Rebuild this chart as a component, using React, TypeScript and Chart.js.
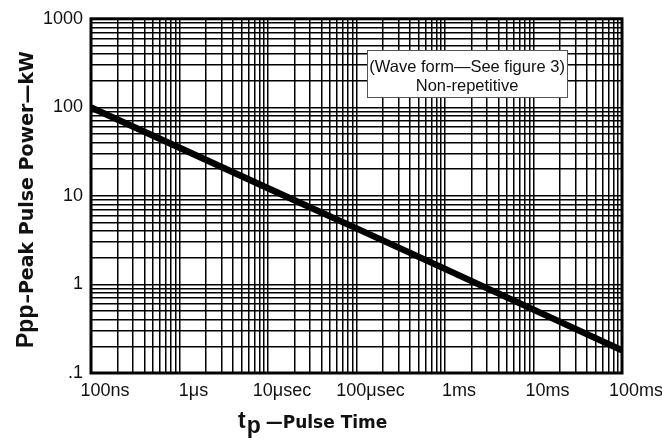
import React, { useEffect, useRef } from "react";
import { Chart, registerables } from "chart.js";

Chart.register(...registerables);

// ---- data ----
const xDecades = [1e-7, 1e-6, 1e-5, 1e-4, 1e-3, 1e-2, 1e-1];
const xTickLabels = ["100ns", "1μs", "10μsec", "100μsec", "1ms", "10ms", "100ms"];
const yDecades = [0.1, 1, 10, 100, 1000];
const yTickLabels = [".1", "1", "10", "100", "1000"];

const pulseTime = [1e-7, 1e-6, 1e-5, 1e-4, 1e-3, 1e-2, 1e-1];
const peakPower = [100, 35, 12.2, 4.3, 1.5, 0.52, 0.18];

const noteLines = ["(Wave form—See figure 3)", "Non-repetitive"];
// note box corners in data units
const noteBox = { x0: 1.32e-4, x1: 0.0239, y0: 440, y1: 129 };

const yTitleMain = "Ppp";
const yTitleRest = "–Peak Pulse Power—kW";
const xTitleMain = "t";
const xTitleSub = "p";
const xTitleRest = "—Pulse Time";

function logTicks(decades: number[]) {
  const out: { value: number }[] = [];
  for (let i = 0; i < decades.length - 1; i++) {
    for (let m = 1; m <= 9; m++) {
      out.push({ value: Number((m * decades[i]).toPrecision(12)) });
    }
  }
  out.push({ value: decades[decades.length - 1] });
  return out;
}

function labelFor(decades: number[], labels: string[], v: number) {
  const i = decades.findIndex((d) => Math.abs(d - v) / d < 1e-6);
  return i >= 0 ? labels[i] : "";
}

const SANS = '"Liberation Sans", Arial, sans-serif';

const decorPlugin = {
  id: "decor",
  beforeDatasetsDraw(chart: any) {
    const ctx = chart.ctx;
    const xs = chart.scales.x;
    const ys = chart.scales.y;
    const l = xs.getPixelForValue(noteBox.x0);
    const r = xs.getPixelForValue(noteBox.x1);
    const t = ys.getPixelForValue(noteBox.y0);
    const b = ys.getPixelForValue(noteBox.y1);
    ctx.save();
    ctx.fillStyle = "#fff";
    ctx.fillRect(l, t, r - l, b - t);
    ctx.strokeStyle = "#555";
    ctx.lineWidth = 1;
    ctx.strokeRect(Math.round(l) + 0.5, Math.round(t) + 0.5, Math.round(r - l), Math.round(b - t));
    ctx.fillStyle = "#111";
    ctx.font = `16.5px ${SANS}`;
    ctx.textAlign = "center";
    ctx.textBaseline = "alphabetic";
    const cx = (l + r) / 2;
    ctx.fillText(noteLines[0], cx, t + 22);
    ctx.fillText(noteLines[1], cx, t + 41);
    ctx.restore();
  },
  afterDatasetsDraw(chart: any) {
    const ctx = chart.ctx;
    const a = chart.chartArea;
    ctx.save();
    ctx.strokeStyle = "#000";
    ctx.lineWidth = 3;
    ctx.strokeRect(a.left, a.top, a.right - a.left, a.bottom - a.top);
    ctx.restore();
  },
  afterDraw(chart: any) {
    const ctx = chart.ctx;
    const a = chart.chartArea;
    ctx.save();
    ctx.fillStyle = "#111";
    ctx.textBaseline = "alphabetic";
    ctx.textAlign = "left";
    // y title (rotated)
    ctx.translate(a.left - 58, a.bottom - 25);
    ctx.rotate(-Math.PI / 2);
    ctx.font = `bold 23px ${SANS}`;
    ctx.fillText(yTitleMain, 0, 0);
    const w1 = ctx.measureText(yTitleMain).width;
    ctx.font = `bold 19px "DejaVu Sans", sans-serif`;
    ctx.fillText(yTitleRest, w1 + 1, 0);
    ctx.restore();

    // x title
    ctx.save();
    ctx.fillStyle = "#111";
    ctx.textBaseline = "alphabetic";
    ctx.textAlign = "left";
    const x0 = a.left + 147;
    const base = a.bottom + 55;
    ctx.font = `bold 23px ${SANS}`;
    ctx.fillText(xTitleMain, x0, base);
    const tw = ctx.measureText(xTitleMain).width;
    ctx.fillText(xTitleSub, x0 + tw + 1, base + 5);
    const pw = ctx.measureText(xTitleSub).width;
    ctx.font = `bold 17px "DejaVu Sans", sans-serif`;
    ctx.fillText(xTitleRest, x0 + tw + pw + 6, base);
    ctx.restore();
  },
};

export default function App() {
  const ref = useRef<HTMLCanvasElement | null>(null);

  useEffect(() => {
    document.body.style.margin = "0";
    document.body.style.overflow = "hidden";
    const canvas = ref.current;
    if (!canvas) return;
    const chart = new Chart(canvas, {
      type: "line",
      data: {
        datasets: [
          {
            data: pulseTime.map((t, i) => ({ x: t, y: peakPower[i] })),
            borderColor: "#000",
            borderWidth: 6.5,
            pointRadius: 0,
            tension: 0,
            fill: false,
          },
        ],
      },
      options: {
        animation: false,
        responsive: false,
        events: [],
        layout: { padding: { top: 13, right: 40, left: 0, bottom: 0 } },
        plugins: { legend: { display: false }, tooltip: { enabled: false } },
        scales: {
          x: {
            type: "logarithmic",
            min: xDecades[0],
            max: xDecades[xDecades.length - 1],
            afterBuildTicks: (axis: any) => {
              axis.ticks = logTicks(xDecades);
            },
            afterFit: (axis: any) => {
              axis.height = 70;
            },
            grid: { color: "#000", lineWidth: 1.5, drawTicks: false },
            border: { display: false },
            ticks: {
              autoSkip: false,
              maxRotation: 0,
              minRotation: 0,
              padding: 7,
              labelOffset: 14,
              color: "#111",
              font: { family: SANS, size: 18 },
              callback: (v: any) => labelFor(xDecades, xTickLabels, Number(v)),
            },
          },
          y: {
            type: "logarithmic",
            min: yDecades[0],
            max: yDecades[yDecades.length - 1],
            afterBuildTicks: (axis: any) => {
              axis.ticks = logTicks(yDecades);
            },
            afterFit: (axis: any) => {
              axis.width = 91;
            },
            grid: { color: "#000", lineWidth: 1.5, drawTicks: false },
            border: { display: false },
            ticks: {
              autoSkip: false,
              padding: 8,
              color: "#111",
              font: { family: SANS, size: 18 },
              callback: (v: any) => labelFor(yDecades, yTickLabels, Number(v)),
            },
          },
        },
      } as any,
      plugins: [decorPlugin],
    });
    return () => chart.destroy();
  }, []);

  return (
    <div style={{ width: 662, height: 443, background: "#fff" }}>
      <canvas ref={ref} width={662} height={443} style={{ display: "block" }} />
    </div>
  );
}
